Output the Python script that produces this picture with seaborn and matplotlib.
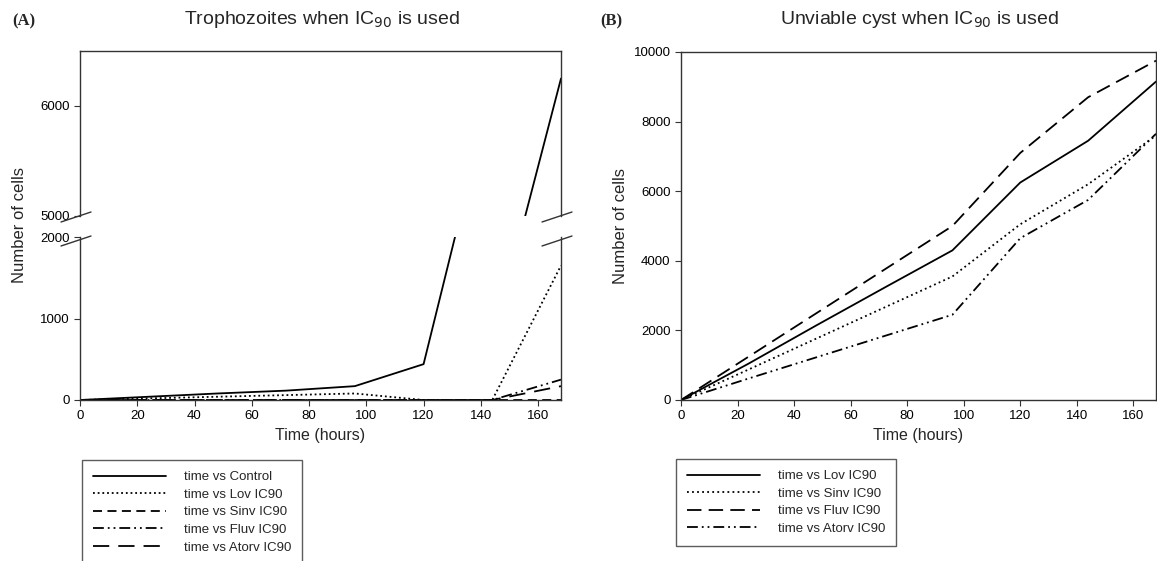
import numpy as np
import pandas as pd
import matplotlib
matplotlib.use("Agg")
import matplotlib.pyplot as plt
from matplotlib.lines import Line2D
import seaborn as sns

# ---------------- data ----------------
time_h = [0, 24, 48, 72, 96, 120, 144, 168]

# Panel A: trophozoites
troph_control = [0, 40, 80, 115, 170, 440, 3850, 6250]
troph_lov = [0, 20, 40, 60, 80, 0, 0, 1650]
troph_sinv = [0, 0, 0, 0, 0, 0, 0, 0]
troph_fluv = [0, 0, 0, 0, 0, 0, 0, 250]
troph_atorv = [0, 0, 0, 0, 0, 0, 0, 170]

# Panel B: unviable cysts
cyst_lov = [0, 1050, 2150, 3230, 4300, 6250, 7450, 9150]
cyst_sinv = [0, 880, 1770, 2660, 3550, 5050, 6200, 7600]
cyst_fluv = [0, 1250, 2500, 3750, 5000, 7100, 8700, 9750]
cyst_atorv = [0, 620, 1230, 1840, 2450, 4650, 5750, 7650]

labels_a = ["time vs Control", "time vs Lov IC90", "time vs Sinv IC90",
            "time vs Fluv IC90", "time vs Atorv IC90"]
labels_b = ["time vs Lov IC90", "time vs Sinv IC90", "time vs Fluv IC90",
            "time vs Atorv IC90"]

yticks_a_low = [0, 1000, 2000]
yticks_a_high = [5000, 6000]
yticks_b = [0, 2000, 4000, 6000, 8000, 10000]
xticks = [0, 20, 40, 60, 80, 100, 120, 140, 160]

# ---------------- style ----------------
sns.set_style("ticks")
plt.rcParams["font.family"] = ["Liberation Sans", "DejaVu Sans"]
plt.rcParams["axes.edgecolor"] = "#333333"
plt.rcParams["axes.linewidth"] = 1.0
plt.rcParams["xtick.color"] = "#333333"
plt.rcParams["ytick.color"] = "#333333"
plt.rcParams["xtick.labelcolor"] = "black"
plt.rcParams["ytick.labelcolor"] = "black"

W, H = 1157, 561
fig = plt.figure(figsize=(W / 100, H / 100), dpi=100)


def rect(x0, y0, x1, y1):
    return [x0 / W, 1 - y1 / H, (x1 - x0) / W, (y1 - y0) / H]


styles_a = ["-", (0, (1, 1.6)), (0, (5, 3)), (0, (6, 2.2, 1, 2.2, 1, 2.2)), (0, (9, 5))]
styles_b = ["-", (0, (1, 1.8)), (0, (8, 4)), (0, (6, 2.2, 1, 2.2, 1, 2.2))]

series_a = [troph_control, troph_lov, troph_sinv, troph_fluv, troph_atorv]
series_b = [cyst_lov, cyst_sinv, cyst_fluv, cyst_atorv]

ax_lo = fig.add_axes(rect(80, 237, 561, 400))
ax_hi = fig.add_axes(rect(80, 51, 561, 216))
ax_b = fig.add_axes(rect(681, 52, 1156, 400))

for ax in (ax_lo, ax_hi):
    for vals, ls, lab in zip(series_a, styles_a, labels_a):
        df = pd.DataFrame({"t": time_h, "v": vals})
        sns.lineplot(data=df, x="t", y="v", ax=ax, color="black",
                     linestyle=ls, linewidth=1.3, label=lab, legend=False)

for vals, ls, lab in zip(series_b, styles_b, labels_b):
    df = pd.DataFrame({"t": time_h, "v": vals})
    sns.lineplot(data=df, x="t", y="v", ax=ax_b, color="black",
                 linestyle=ls, linewidth=1.3, label=lab, legend=False)

tick_fs = 9.5
# lower part of A
ax_lo.set_xlim(0, 168)
ax_lo.set_ylim(0, 2000)
ax_lo.set_yticks(yticks_a_low)
ax_lo.set_xticks(xticks)
ax_lo.spines["top"].set_visible(False)
ax_lo.set_xlabel("Time (hours)", fontsize=11.5)
ax_lo.set_ylabel("")
ax_lo.tick_params(labelsize=tick_fs, length=4)

# upper part of A
ax_hi.set_xlim(0, 168)
ax_hi.set_ylim(5000, 6500)
ax_hi.set_yticks(yticks_a_high)
ax_hi.spines["bottom"].set_visible(False)
ax_hi.set_xticks([])
ax_hi.set_xlabel("")
ax_hi.set_ylabel("")
ax_hi.tick_params(labelsize=tick_fs, length=4)

# break marks
bx = [(80, 217), (561, 217), (80, 241), (561, 241)]
for (px, py) in bx:
    fig.add_artist(Line2D([(px - 19) / W, (px + 11) / W],
                          [1 - (py + 5) / H, 1 - (py - 5) / H],
                          color="#333333", linewidth=1.0))

fig.text(20 / W, 1 - 225 / H, "Number of cells", rotation=90,
         ha="center", va="center", fontsize=12)

# panel B
ax_b.set_xlim(0, 168)
ax_b.set_ylim(0, 10000)
ax_b.set_yticks(yticks_b)
ax_b.set_xticks(xticks)
ax_b.set_xlabel("Time (hours)", fontsize=11.5)
ax_b.set_ylabel("Number of cells", fontsize=12)
ax_b.tick_params(labelsize=tick_fs, length=4)

# titles and panel letters
fig.text(322 / W, 1 - 20 / H, "Trophozoites when IC$_{90}$ is used",
         ha="center", va="center", fontsize=14)
fig.text(920 / W, 1 - 20 / H, "Unviable cyst when IC$_{90}$ is used",
         ha="center", va="center", fontsize=14)
fig.text(12 / W, 1 - 21 / H, "(A)", ha="left", va="center", fontsize=12,
         fontweight="bold", family=["Liberation Serif", "DejaVu Serif"])
fig.text(600 / W, 1 - 21 / H, "(B)", ha="left", va="center", fontsize=12,
         fontweight="bold", family=["Liberation Serif", "DejaVu Serif"])

# legends
handles_a = [Line2D([], [], color="black", linestyle=ls, linewidth=1.3)
             for ls in styles_a]
handles_b = [Line2D([], [], color="black", linestyle=ls, linewidth=1.3)
             for ls in styles_b]
leg_kw = dict(fontsize=9.5, frameon=True, fancybox=False, handlelength=5.5,
              handletextpad=1.35, labelspacing=0.4, borderpad=0.85,
              borderaxespad=0.0, edgecolor="#333333", loc="upper left")
la = fig.legend(handles_a, labels_a, bbox_to_anchor=(82 / W, 1 - 460 / H),
                **leg_kw)
lb = fig.legend(handles_b, labels_b, bbox_to_anchor=(676 / W, 1 - 459 / H),
                **leg_kw)
for lg in (la, lb):
    lg.get_frame().set_linewidth(1.0)

fig.savefig("out.png", dpi=100)
